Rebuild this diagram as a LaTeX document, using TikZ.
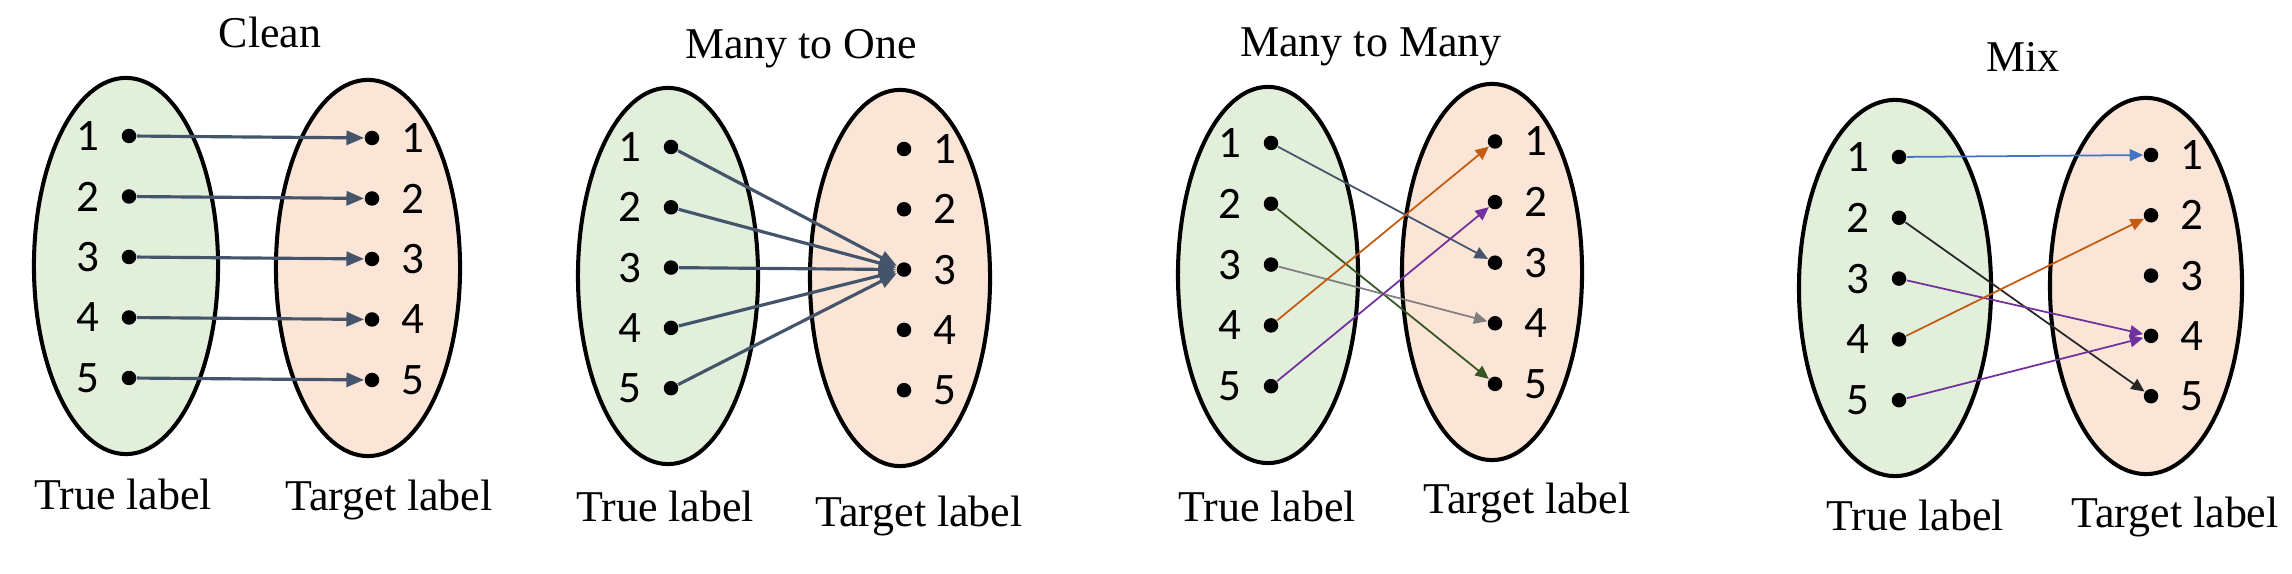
\documentclass[tikz,border=0pt]{standalone}
\usepackage{fontspec}
\setmainfont{Liberation Serif}
\newfontfamily\numfont{Carlito}
\usetikzlibrary{positioning, shapes.geometric, arrows.meta}
\definecolor{setgreen}{HTML}{E2EFDA}
\definecolor{setorange}{HTML}{FBE5D6}
\definecolor{slate}{HTML}{44546A}
\definecolor{mmorange}{HTML}{C55A11}
\definecolor{mmpurple}{HTML}{7030A0}
\definecolor{mmgreen}{HTML}{375623}
\definecolor{mmgray}{HTML}{808080}
\definecolor{mmblue}{HTML}{4472C4}
\definecolor{mmblack}{HTML}{262626}

\begin{document}
\begin{tikzpicture}[x=0.01cm, y=-0.01cm,
    setA/.style={ellipse, draw=black, line width=1.15pt, fill=setgreen, minimum width=1.8cm, minimum height=3.76cm},
    setB/.style={setA, fill=setorange},
    dt/.style={circle, fill=black, inner sep=0pt, minimum size=0.145cm},
    num/.style={inner sep=0pt, font=\numfont\fontsize{12.8}{14}\selectfont},
    lab/.style={anchor=base, inner sep=0pt, font=\fontsize{12.5}{15}\selectfont},
    arr/.style={-{Triangle[length=5pt, width=4pt]}, line width=0.9pt, color=slate},
    thin/.style={-{Triangle[length=3.8pt, width=3.4pt]}, line width=0.5pt}]
  \useasboundingbox (0,0) rectangle (2292,574);

  % Clean
  \node[lab] (h1) at (270,48) {Clean};
  \node[setA, minimum width=1.84cm] (a1) at (126,266) {};
  \node[setB, minimum width=1.84cm] (b1) at (368,268) {};
  \foreach \i in {1,...,5} {
    \node[dt] (a1\i) at (129,{136+60.5*(\i-1)}) {};
    \node[num, left=0.21cm of a1\i] (na1\i) {\i};
    \node[dt] (b1\i) at (372,{138+60.5*(\i-1)}) {};
    \node[num, right=0.21cm of b1\i] (nb1\i) {\i};
  }
  \foreach \i in {1,...,5}
    \draw[arr] (a1\i) -- (b1\i);
  \node[lab] (t1) at (123,510) {True label};
  \node[lab] (g1) at (389,511) {Target label};

  % Many to One
  \node[lab] (h2) at (801,59) {Many to One};
  \node[setA] (a2) at (668,276) {};
  \node[setB] (b2) at (900,278) {};
  \foreach \i in {1,...,5} {
    \node[dt] (a2\i) at (671,{147+60.3*(\i-1)}) {};
    \node[num, left=0.21cm of a2\i] (na2\i) {\i};
    \node[dt] (b2\i) at (904,{149+60.3*(\i-1)}) {};
    \node[num, right=0.21cm of b2\i] (nb2\i) {\i};
  }
  \foreach \i in {1,...,5}
    \draw[arr] (a2\i) -- (b23);
  \node[lab] (t2) at (665,522) {True label};
  \node[lab] (g2) at (919,527) {Target label};

  % Many to Many
  \node[lab] (h3) at (1371,57) {Many to Many};
  \node[setA] (a3) at (1268,275) {};
  \node[setB] (b3) at (1492,272) {};
  \foreach \i in {1,...,5} {
    \node[dt] (a3\i) at (1271,{143+60.8*(\i-1)}) {};
    \node[num, left=0.21cm of a3\i] (na3\i) {\i};
    \node[dt] (b3\i) at (1495,{141.5+60.6*(\i-1)}) {};
    \node[num, right=0.21cm of b3\i] (nb3\i) {\i};
  }
  \draw[thin, slate] (a31) -- (b33);
  \draw[thin, mmgreen] (a32) -- (b35);
  \draw[thin, mmgray] (a33) -- (b34);
  \draw[thin, mmorange] (a34) -- (b31);
  \draw[thin, mmpurple] (a35) -- (b32);
  \node[lab] (t3) at (1267,522) {True label};
  \node[lab] (g3) at (1527,514) {Target label};

  % Mix
  \node[lab] (h4) at (2023,72) {Mix};
  \node[setA, minimum width=1.92cm] (a4) at (1895,288) {};
  \node[setB, minimum width=1.92cm] (b4) at (2146,286) {};
  \foreach \i in {1,...,5} {
    \node[dt] (a4\i) at (1899,{157+60.8*(\i-1)}) {};
    \node[num, left=0.21cm of a4\i] (na4\i) {\i};
    \node[dt] (b4\i) at (2151,{155+60.3*(\i-1)}) {};
    \node[num, right=0.21cm of b4\i] (nb4\i) {\i};
  }
  \draw[thin, mmblue] (a41) -- (b41);
  \draw[thin, mmblack] (a42) -- (b45);
  \draw[thin, mmpurple] (a43) -- (b44);
  \draw[thin, mmorange] (a44) -- (b42);
  \draw[thin, mmpurple] (a45) -- (b44);
  \node[lab] (t4) at (1915,531) {True label};
  \node[lab] (g4) at (2175,528) {Target label};
\end{tikzpicture}
\end{document}
